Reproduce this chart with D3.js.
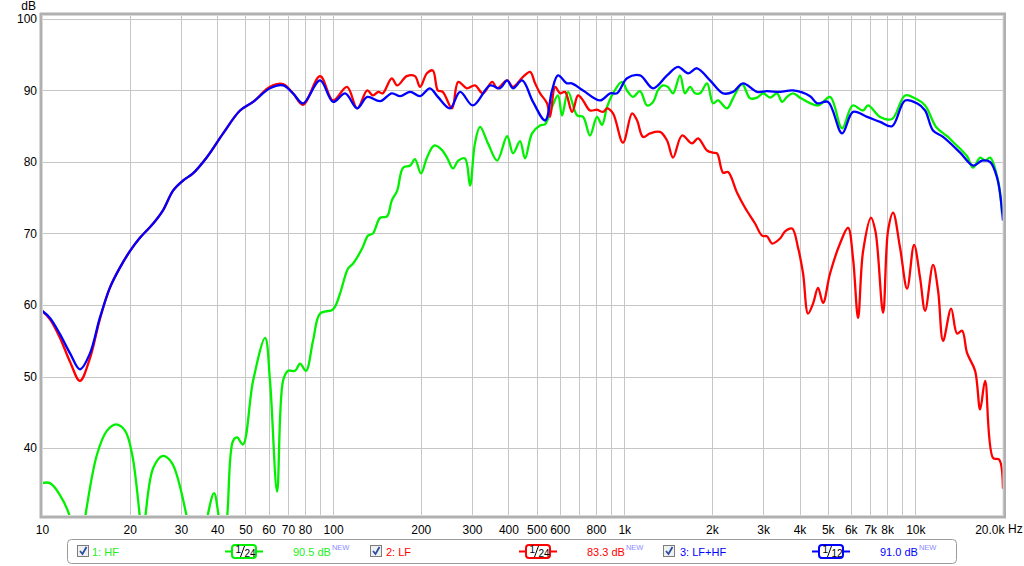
<!DOCTYPE html>
<html><head><meta charset="utf-8">
<script src="https://cdn.jsdelivr.net/npm/d3@7"></script>
<style>body{margin:0;background:#fff}svg{display:block;font-family:"Liberation Sans",Arial,sans-serif}</style>
</head><body><svg id="c" width="1024" height="566"></svg>
<script>
// ---- data: [frequency Hz, level dB] ----
const hfData=[[10,35.1],[10.65,35.1],[11.5,33.5],[12.5,30.2],[13.2,22],[14.05,30.2],[15.45,39.1],[16.7,42.4],[17.96,43.3],[19.3,42.4],[20.4,39.1],[21.7,30.2],[22.05,27],[22.6,30.2],[24.1,37.2],[26,38.9],[27.96,37.9],[31.5,30.2],[34.1,22],[36.9,30.2],[39,33.7],[40.55,30.2],[41.9,27],[43.2,30.2],[45.3,41.0],[46.8,41.5],[49,40.5],[53.1,49.4],[58.4,55.4],[60.7,49.4],[64.2,33.9],[67.3,49.4],[70,50.8],[74,50.8],[77,51.8],[80.7,50.8],[85.3,55.0],[90.2,58.8],[100,59.4],[105.6,61.6],[108.1,63.0],[112.5,65.1],[117.1,65.8],[125.8,67.9],[131.8,69.7],[137,70.0],[145,72.2],[153.2,72.4],[159,74.6],[166,76.0],[173.9,79.2],[184,79.5],[191,80.4],[200.4,78.4],[210,80.6],[222.2,82.3],[234.9,81.8],[246.2,80.6],[258.2,79.1],[269,80.2],[283.9,80.5],[295.3,76.7],[307,82.6],[319.6,84.9],[340.5,82.6],[366,80.2],[396,83.6],[415,81.2],[438.6,82.9],[456.3,80.5],[482.3,84.0],[514,85.1],[535,85.3],[565,87.7],[592,89.3],[611.5,86.5],[641.2,89.8],[689,86.5],[722,86.3],[763,83.7],[806,86.3],[838.9,85.2],[873,87.7],[915,89.6],[982.6,91.2],[1022,90.0],[1072,89.1],[1133,89.9],[1198,87.9],[1256,88.4],[1305,90.0],[1357,90.7],[1412,90.5],[1471,89.6],[1555,92.1],[1617,89.6],[1683,90.5],[1751,89.6],[1821,89.6],[1925,91.0],[2019,88.2],[2100,88.6],[2255,87.5],[2364,88.9],[2540,90.9],[2705,88.9],[2859,89.0],[2999,89.6],[3170,89.0],[3349,89.6],[3485,88.4],[3625,89.1],[3801,89.6],[4049,88.9],[4632,87.9],[5092,89.1],[5601,84.7],[6089,87.9],[6612,87.2],[6879,87.9],[7568,86.3],[8318,86.0],[9218,89.3],[9977,88.9],[10800,87.9],[11780,84.9],[12850,83.6],[13480,82.8],[15050,80.8],[15790,79.2],[16690,80.6],[17360,80.2],[18060,80.6],[19230,77.4],[19850,72.8]];

const lfData=[[10,59.2],[10.65,58.0],[11.5,55.5],[12.5,52.0],[13.5,49.4],[14.6,52.5],[15.8,58.0],[17.1,62.4],[18.5,65.2],[20.1,67.6],[21.7,69.4],[24.1,71.4],[26,73.2],[28.2,76.0],[30.5,77.4],[33,78.4],[36.9,80.7],[41.9,84.0],[47.9,87.2],[53.1,88.4],[60.7,90.5],[67.3,90.9],[72.8,89.6],[78.8,88.0],[90.2,92.0],[100,88.6],[111.6,90.5],[121,87.5],[131,90.0],[137,89.3],[143,89.8],[148,89.6],[159,91.7],[166,90.7],[179,92.0],[191,92.0],[199,90.5],[210,92.4],[220,92.8],[229,90.0],[238,89.8],[256,87.5],[269,91.2],[288,90.3],[307,90.7],[327,89.6],[352,91.2],[366,90.3],[396,91.4],[415,90.5],[449,91.9],[475,92.6],[494,91.0],[514,89.6],[543,88.2],[556,86.3],[579,90.5],[602,89.6],[626,89.8],[662,87.0],[694,89.3],[722,88.6],[763,87.2],[806,87.3],[846,87.0],[873,87.5],[915,86.8],[990,82.7],[1064,86.8],[1107,85.8],[1160,83.5],[1227,84.0],[1327,84.2],[1403,83.0],[1471,80.6],[1579,83.7],[1710,82.6],[1793,83.3],[1925,81.6],[2019,81.3],[2084,81.2],[2185,78.5],[2273,78.6],[2441,75.7],[2600,73.6],[2814,71.4],[2974,69.7],[3094,69.6],[3219,68.6],[3429,69.3],[3568,70.3],[3771,70.7],[3954,68.0],[4114,64.4],[4280,58.8],[4452,60.2],[4632,62.4],[4818,60.3],[5092,64.4],[5511,68.6],[5873,70.8],[6109,66.5],[6357,58.2],[6612,67.5],[7043,72.2],[7300,70.2],[7748,58.9],[8057,70.4],[8383,72.9],[8861,68.0],[9366,62.3],[9897,68.4],[10380,63.8],[10800,59.2],[11500,65.6],[11970,62.0],[12450,55.0],[13270,59.5],[13910,56.0],[14470,56.4],[15050,53.3],[16040,50.8],[16690,45.4],[17360,49.4],[18490,38.6],[19390,38.4],[20000,34.3]];

const sumData=[[10,59.2],[10.65,58.2],[11.5,56.0],[12.5,53.2],[13.5,51.0],[14.6,53.2],[15.8,58.2],[17.1,62.4],[18.5,65.2],[20.1,67.6],[21.7,69.4],[24.1,71.4],[26,73.2],[28.2,76.0],[30.5,77.4],[33,78.4],[36.9,80.7],[41.9,84.0],[47.9,87.2],[53.1,88.4],[60.7,90.3],[67.3,90.7],[72.8,89.6],[78.8,88.2],[90.2,91.4],[100,88.4],[110,89.6],[121,87.5],[131,89.1],[145,88.5],[159,89.6],[170,89.2],[184,89.8],[199,89.2],[215,90.3],[229,89.1],[252,87.5],[273,89.8],[302,87.9],[346,90.7],[374,90.3],[396,91.4],[415,90.3],[446,91.4],[486,88.4],[535,85.8],[565,90.0],[592,92.1],[636,91.0],[660,91.0],[722,90.0],[826,88.6],[894,89.6],[945,89.6],[1022,91.7],[1133,92.1],[1256,90.3],[1403,92.1],[1530,93.3],[1657,92.4],[1778,93.1],[1971,91.4],[2185,89.6],[2364,89.8],[2559,91.0],[2859,89.8],[3094,89.9],[3429,89.8],[3801,90.0],[4349,89.2],[4597,88.2],[5013,88.4],[5601,84.0],[6109,87.0],[6826,86.3],[7568,85.6],[8318,85.0],[9218,88.6],[10130,88.2],[10800,87.2],[11500,84.4],[12450,83.5],[14250,81.3],[15790,79.5],[16950,80.2],[18060,80.0],[19090,77.8],[20000,71.8]];

const xTickValues=[10,20,30,40,50,60,70,80,100,200,300,400,500,600,800,1000,2000,3000,4000,5000,6000,7000,8000,10000,20000];
const xTickLabels=["10","20","30","40","50","60","70","80","100","200","300","400","500","600","800","1k","2k","3k","4k","5k","6k","7k","8k","10k","20.0k"];
const xGridValues=[10,20,30,40,50,60,70,80,90,100,200,300,400,500,600,700,800,900,1000,2000,3000,4000,5000,6000,7000,8000,9000,10000,20000];
const yTickValues=[40,50,60,70,80,90,100];
const seriesNames=["1: HF","2: LF","3: LF+HF"];
const seriesColors=["#00f000","#ff0000","#0000ff"];
const smoothingDen=["24","24","12"];
const levels=["90.5 dB","83.3 dB","91.0 dB"];

// ---- layout ----
const L=42,R=1003,T=15,B=516;
const svg=d3.select("#c");
const x=d3.scaleLog().domain([10,20000]).range([L,R]);
const y=d3.scaleLinear().domain([30.5,100.55]).range([B,T]);

// grid
svg.append("g").attr("transform",`translate(0,${B})`)
  .call(d3.axisBottom(x).tickValues(xGridValues).tickSize(-(B-T)).tickFormat(""))
  .call(g=>{g.select(".domain").remove();g.selectAll("line").attr("stroke","#c6c6c6").attr("stroke-width",1).attr("shape-rendering","crispEdges");});
svg.append("g").attr("transform",`translate(${L},0)`)
  .call(d3.axisLeft(y).tickValues(yTickValues).tickSize(-(R-L)).tickFormat(""))
  .call(g=>{g.select(".domain").remove();g.selectAll("line").attr("stroke","#c6c6c6").attr("stroke-width",1).attr("shape-rendering","crispEdges");});

// labels
const xa=svg.append("g").attr("transform",`translate(0,${B})`)
  .call(d3.axisBottom(x).tickValues(xTickValues).tickSize(0).tickPadding(9).tickFormat((d,i)=>xTickLabels[i]));
xa.select(".domain").remove();
xa.selectAll("text").attr("font-size",12).attr("fill","#000").attr("font-family","Liberation Sans, Arial, sans-serif");
xa.selectAll(".tick").filter(d=>d===20000).select("text").attr("text-anchor","end").attr("x",1);
svg.append("text").attr("x",1008).attr("y",533).attr("font-size",12).text("Hz");

const ya=svg.append("g").attr("transform",`translate(${L},0)`)
  .call(d3.axisLeft(y).tickValues(yTickValues).tickSize(0).tickPadding(5));
ya.select(".domain").remove();
ya.selectAll("text").attr("font-size",12).attr("fill","#000").attr("font-family","Liberation Sans, Arial, sans-serif");
svg.append("text").attr("x",36).attr("y",10).attr("text-anchor","end").attr("font-size",12).text("dB");

// curves
svg.append("clipPath").attr("id","clip").append("rect").attr("x",L).attr("y",T+1).attr("width",R-L).attr("height",B-T-1);
const line=d3.line().x(d=>x(d[0])).y(d=>y(d[1])).curve(d3.curveCatmullRom.alpha(0.5));
const cg=svg.append("g").attr("clip-path","url(#clip)");
[hfData,lfData,sumData].forEach((s,i)=>{
  cg.append("path").attr("d",line(s)).attr("fill","none").attr("stroke",seriesColors[i]).attr("stroke-width",2.3).attr("stroke-linejoin","round");
});

// frame
svg.append("rect").attr("x",L-1).attr("y",T-1).attr("width",R-L+2.5).attr("height",B-T+2)
  .attr("fill","none").attr("stroke","#b0b0b0").attr("stroke-width",3);
svg.append("rect").attr("x",L+0.5).attr("y",T+0.5).attr("width",R-L-0.5).attr("height",B-T-1)
  .attr("fill","none").attr("stroke","#d8d8d8").attr("stroke-width",1);

// legend
svg.append("rect").attr("x",67.5).attr("y",539.5).attr("width",889).attr("height",24).attr("rx",4)
  .attr("fill","#fff").attr("stroke","#9a9a9a");
const cbX=[77,370,663],lbX=[92,386,680],bdX=[244,538,831],lvX=[293,587,880];
seriesNames.forEach((n,i)=>{
  const c=seriesColors[i];
  const g=svg.append("g");
  g.append("rect").attr("x",cbX[i]+0.5).attr("y",545.5).attr("width",11).attr("height",11)
    .attr("fill","#eef0f4").attr("stroke","#7d7d7d");
  g.append("path").attr("d",`M${cbX[i]+3},${551} L${cbX[i]+5.5},${554} L${cbX[i]+9.5},${547}`)
    .attr("fill","none").attr("stroke","#2c4d9e").attr("stroke-width",1.8);
  g.append("text").attr("x",lbX[i]).attr("y",556).attr("font-size",11).attr("fill",c==="#00f000"?"#22ee22":c).text(n);
  const cx=bdX[i];
  g.append("line").attr("x1",cx-19).attr("x2",cx+19).attr("y1",551.5).attr("y2",551.5).attr("stroke",c).attr("stroke-width",2);
  g.append("rect").attr("x",cx-12).attr("y",545).attr("width",24).attr("height",13).attr("rx",3)
    .attr("fill","#fff").attr("stroke",c).attr("stroke-width",2);
  g.append("text").attr("x",cx-8.5).attr("y",553).attr("font-size",10).text("1");
  g.append("line").attr("x1",cx-3.5).attr("y1",557).attr("x2",cx+0.5).attr("y2",546).attr("stroke","#000").attr("stroke-width",1);
  g.append("text").attr("x",cx+0.5).attr("y",557).attr("font-size",10).text(smoothingDen[i]);
  const lt=g.append("text").attr("x",lvX[i]).attr("y",556).attr("font-size",11).attr("fill",c==="#00f000"?"#22ee22":c).text(levels[i]);
  const w=lt.node().getComputedTextLength();
  g.append("text").attr("x",lvX[i]+w+1).attr("y",550).attr("font-size",7.5).attr("fill","#8c8cff").text("NEW");
});
</script></body></html>
